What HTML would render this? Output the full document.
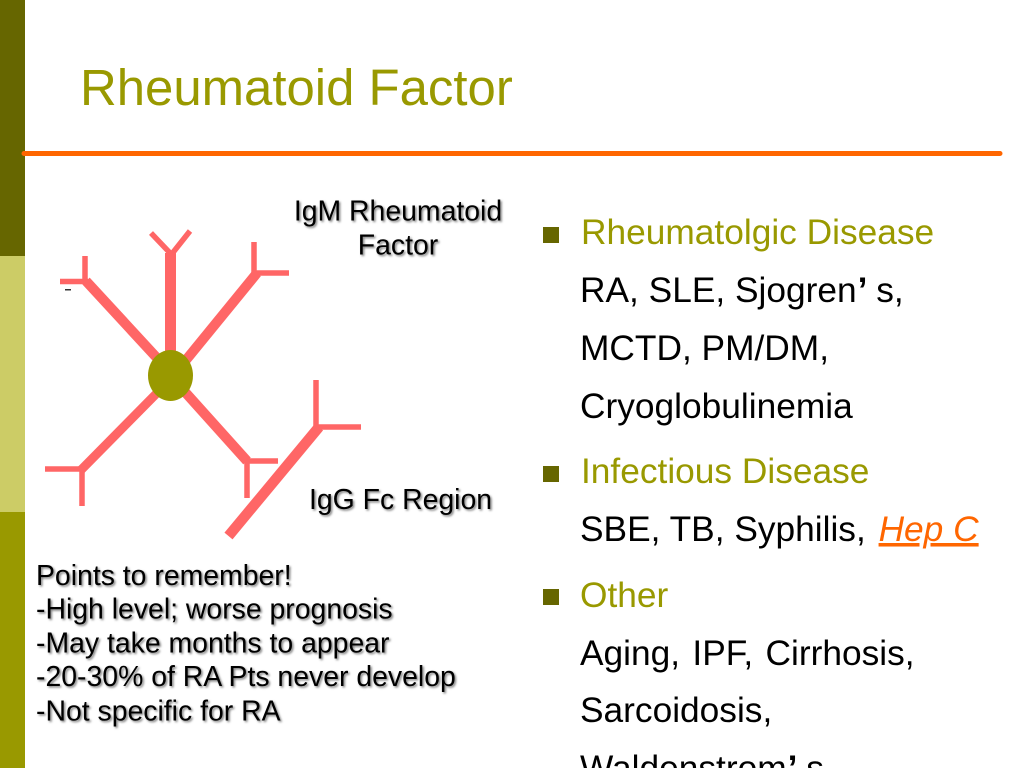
<!DOCTYPE html>
<html><head><meta charset="utf-8"><title>Rheumatoid Factor</title>
<style>
html,body{margin:0;padding:0;background:#fff;width:1024px;height:768px;overflow:hidden}
svg{display:block}
text{font-family:"Liberation Sans",sans-serif}
.b{font-size:35.3px;fill:#000}
.h{font-size:35.3px;fill:#999900}
.s{font-size:28.4px;fill:#000;filter:url(#sh)}
line{stroke:#FF6666;stroke-linecap:butt}
</style></head><body>
<svg width="1024" height="768" viewBox="0 0 1024 768" xmlns="http://www.w3.org/2000/svg">
<defs><filter id="sh" x="-10%" y="-30%" width="120%" height="170%"><feDropShadow dx="1.5" dy="1.5" stdDeviation="1" flood-color="#000" flood-opacity=".5"/></filter></defs>
<rect x="0" y="0" width="25" height="256" fill="#666600"/>
<rect x="0" y="256" width="25" height="256" fill="#CCCC66"/>
<rect x="0" y="512" width="25" height="256" fill="#999900"/>
<line x1="24" y1="153.5" x2="1000" y2="153.5" style="stroke:#FF6600;stroke-width:5;stroke-linecap:round"/>
<text x="80" y="105" font-size="50.9" fill="#999900">Rheumatoid Factor</text>

<g>
<line x1="170.5" y1="355" x2="170.5" y2="253" stroke-width="11"/>
<line x1="171" y1="254" x2="151" y2="233" stroke-width="5.5"/>
<line x1="171" y1="255" x2="190" y2="231" stroke-width="5.5"/>
<line x1="186" y1="360" x2="257" y2="273" stroke-width="10"/>
<line x1="254" y1="242" x2="254" y2="274" stroke-width="5.5"/>
<line x1="254" y1="273" x2="289" y2="273" stroke-width="5.5"/>
<line x1="157" y1="358" x2="86" y2="281" stroke-width="10"/>
<line x1="85" y1="256" x2="85" y2="283" stroke-width="5.5"/>
<line x1="60" y1="281.5" x2="88" y2="281.5" stroke-width="5.5"/>
<line x1="157" y1="393" x2="81" y2="470" stroke-width="9"/>
<line x1="45" y1="469" x2="83" y2="469" stroke-width="5.5"/>
<line x1="82" y1="469" x2="82" y2="506" stroke-width="5.5"/>
<line x1="185" y1="392" x2="247" y2="461" stroke-width="10"/>
<line x1="245" y1="461" x2="278" y2="461" stroke-width="5.5"/>
<line x1="247" y1="461" x2="247" y2="498" stroke-width="5.5"/>
<line x1="228.5" y1="536" x2="319" y2="427" stroke-width="10.5"/>
<line x1="316" y1="380" x2="316" y2="428" stroke-width="5.5"/>
<line x1="315" y1="427" x2="361" y2="427" stroke-width="5.5"/>
</g>
<ellipse cx="170.5" cy="375.5" rx="22.5" ry="25.5" fill="#999900"/>
<rect x="65" y="289" width="6" height="1.5" fill="#333"/>

<text class="s" x="398" y="220.5" text-anchor="middle">IgM Rheumatoid</text>
<text class="s" x="398" y="254.5" text-anchor="middle">Factor</text>
<text class="s" x="309" y="509">IgG Fc Region</text>
<text class="s" x="36" y="585">Points to remember!</text>
<text class="s" x="36" y="618.5">-High level; worse prognosis</text>
<text class="s" x="36" y="652.5">-May take months to appear</text>
<text class="s" x="36" y="686">-20-30% of RA Pts never develop</text>
<text class="s" x="36" y="720.5">-Not specific for RA</text>

<rect x="543" y="227" width="16" height="16" fill="#666600"/>
<rect x="543" y="466" width="16" height="16" fill="#666600"/>
<rect x="543" y="589" width="16" height="16" fill="#666600"/>
<text class="h" x="581" y="244">Rheumatolgic Disease</text>
<text class="b" x="580" y="302">RA, SLE, Sjogren<tspan dx="1" font-weight="bold">’</tspan><tspan dx="-1"> s,</tspan></text>
<text class="b" x="580" y="360">MCTD, PM/DM,</text>
<text class="b" x="580" y="418">Cryoglobulinemia</text>
<text class="h" x="581" y="483">Infectious Disease</text>
<text class="b" x="580" y="541">SBE, TB, Syphilis, <tspan dx="3" font-style="italic" fill="#FF6600" text-decoration="underline">Hep C</tspan></text>
<text class="h" x="580" y="607">Other</text>
<text class="b" x="580" y="665" word-spacing="2.5">Aging, IPF, Cirrhosis,</text>
<text class="b" x="580" y="722">Sarcoidosis,</text>
<text class="b" x="580" y="780">Waldenstrom<tspan dx="1" font-weight="bold">’</tspan><tspan dx="-1"> s</tspan></text>
</svg>
</body></html>
